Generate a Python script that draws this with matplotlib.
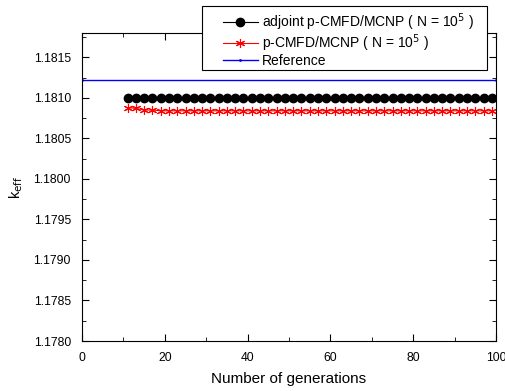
import matplotlib
matplotlib.use("Agg")
import matplotlib.pyplot as plt
from matplotlib.patches import Rectangle
from matplotlib.ticker import MultipleLocator

plt.rcParams["font.family"] = ["Liberation Sans", "DejaVu Sans"]

# data
generations = [11, 13, 15, 17, 19, 21, 23, 25, 27, 29, 31, 33, 35, 37, 39,
               41, 43, 45, 47, 49, 51, 53, 55, 57, 59, 61, 63, 65, 67, 69,
               71, 73, 75, 77, 79, 81, 83, 85, 87, 89, 91, 93, 95, 97, 99]
k_adjoint = [1.18100, 1.18100, 1.18100, 1.18100, 1.18100, 1.18100, 1.18100,
             1.18100, 1.18100, 1.18100, 1.18100, 1.18100, 1.18100, 1.18100,
             1.18100, 1.18100, 1.18100, 1.18100, 1.18100, 1.18100, 1.18100,
             1.18100, 1.18100, 1.18100, 1.18100, 1.18100, 1.18100, 1.18100,
             1.18100, 1.18100, 1.18100, 1.18100, 1.18100, 1.18100, 1.18100,
             1.18100, 1.18100, 1.18100, 1.18100, 1.18100, 1.18100, 1.18100,
             1.18100, 1.18100, 1.18100]
k_pcmfd = [1.18088, 1.18087, 1.18085, 1.18085, 1.18084, 1.18084, 1.18084,
           1.18084, 1.18084, 1.18084, 1.18084, 1.18084, 1.18084, 1.18084,
           1.18084, 1.18084, 1.18084, 1.18084, 1.18084, 1.18084, 1.18084,
           1.18084, 1.18084, 1.18084, 1.18084, 1.18084, 1.18084, 1.18084,
           1.18084, 1.18084, 1.18084, 1.18084, 1.18084, 1.18084, 1.18084,
           1.18084, 1.18084, 1.18084, 1.18084, 1.18084, 1.18084, 1.18084,
           1.18084, 1.18084, 1.18084]
ref_x = [0, 100]
ref_k = [1.18122, 1.18122]

W, H = 505, 391
fig = plt.figure(figsize=(W / 100, H / 100), dpi=100)
ax = fig.add_axes([82 / W, 1 - 341 / H, 414 / W, 308 / H])

ax.plot(generations, k_adjoint, color="black", marker="o", markersize=6,
        linewidth=0.8, label="adjoint p-CMFD/MCNP ( N = 10$^5$ )")
# asterisk-like marker for p-CMFD
ax.plot(generations, k_pcmfd, color="red", marker=(6, 2, 0), markersize=6.5,
        markeredgewidth=0.8, linewidth=0.8,
        label="p-CMFD/MCNP ( N = 10$^5$ )")
ax.plot(ref_x, ref_k, color="blue", linewidth=1.0, marker=".", markersize=2,
        label="Reference")

ax.set_xlim(0, 100)
ax.set_ylim(1.1780, 1.1818)
ax.xaxis.set_major_locator(MultipleLocator(20))
ax.xaxis.set_minor_locator(MultipleLocator(10))
ax.yaxis.set_major_locator(MultipleLocator(0.0005))
ax.yaxis.set_minor_locator(MultipleLocator(0.00025))
ax.yaxis.set_major_formatter(plt.FormatStrFormatter("%.4f"))
ax.tick_params(which="both", direction="in", top=True, right=True,
               labelsize=8.7, pad=8)
ax.tick_params(which="major", length=5)
ax.tick_params(which="minor", length=3)

ax.set_xlabel("Number of generations", fontsize=11, labelpad=6)
ax.set_ylabel("k$_{\\mathrm{eff}}$", fontsize=10.5, labelpad=6)

# legend box sits partly above the axes, drawn as a separate frame
frame = Rectangle((202 / W, 1 - 70 / H), 285 / W, 64 / H,
                  transform=fig.transFigure, facecolor="white",
                  edgecolor="black", linewidth=0.8, zorder=4)
fig.patches.append(frame)
handles, labels = ax.get_legend_handles_labels()
leg = fig.legend(handles, labels, loc="upper left",
                 bbox_to_anchor=(223 / W, 1 - 11 / H), fontsize=10,
                 frameon=False, handlelength=2.5, handletextpad=0.3,
                 borderpad=0, borderaxespad=0, labelspacing=0.0)
leg.set_zorder(5)

fig.savefig("out.png", dpi=100)
